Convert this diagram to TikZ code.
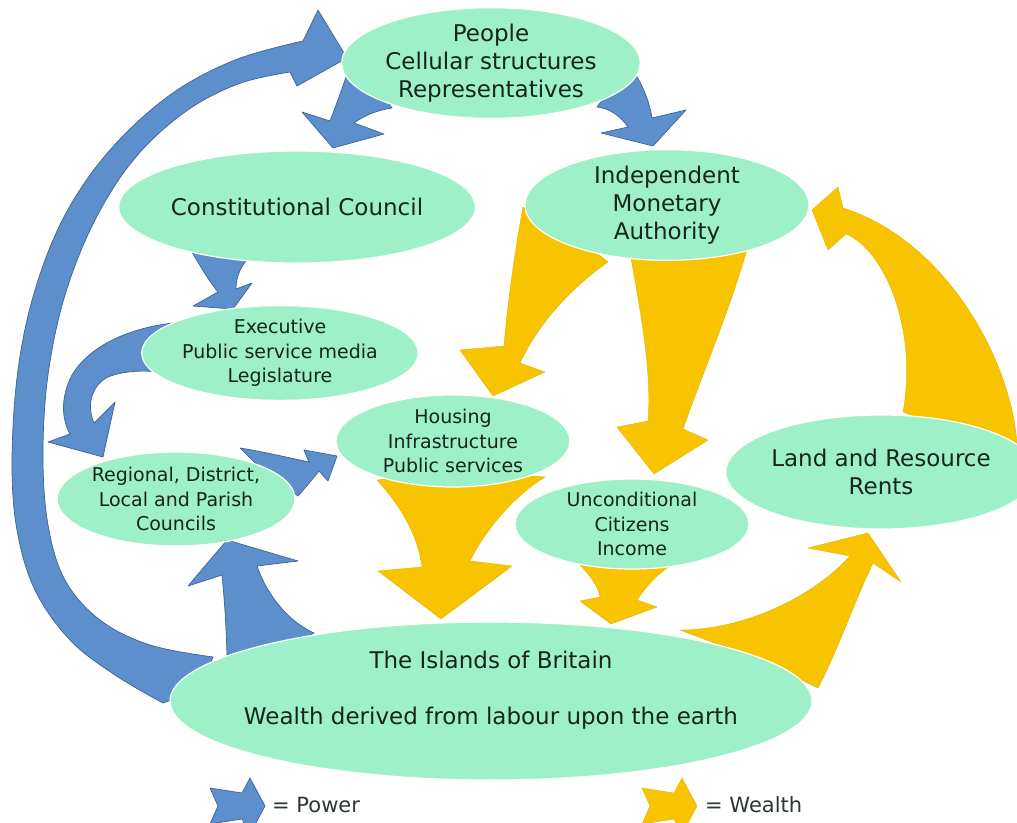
\documentclass[tikz,border=0pt]{standalone}
\usepackage{fontspec}
\setmainfont{DejaVu Sans}
\usetikzlibrary{shapes.geometric}
\definecolor{bubblefill}{RGB}{158,240,200}
\definecolor{powerblue}{RGB}{93,143,205}
\definecolor{powerline}{RGB}{62,98,148}
\definecolor{wealthyellow}{RGB}{248,196,0}
\definecolor{textdark}{RGB}{22,38,28}
\begin{document}
\begin{tikzpicture}[x=1pt,y=-1pt,
  bubble/.style={ellipse, fill=bubblefill, draw=white, line width=1.2pt, inner sep=0pt, align=center, text=textdark},
  bigtext/.style={font=\fontsize{23}{28}\selectfont},
  smalltext/.style={font=\fontsize{19}{24.3}\selectfont},
  legendtext/.style={font=\fontsize{21}{25}\selectfont, text=textdark!80!gray, inner sep=0pt},
  power/.style={fill=powerblue, draw=powerline, line width=0.7pt, line join=round},
  wealth/.style={fill=wealthyellow, draw=wealthyellow!92!black, line width=0.4pt, line join=round},
]
\useasboundingbox[fill=white] (0,0) rectangle (1017,822);

% ---------- power arrows (blue) ----------
% big arc: Islands -> People
\filldraw[power] plot[smooth, tension=0.6] coordinates {(163,703) (115,675) (70,640) (35,590) (17,530) (12,460) (18,370) (35,290) (65,215) (110,150) (170,95) (235,60) (303,41)}
  -- (318,10) -- (347,58) -- (297,86)
  -- plot[smooth, tension=0.6] coordinates {(290,72) (238,84) (185,112) (135,158) (95,220) (65,295) (48,375) (43,455) (48,525) (65,580) (100,620) (150,645) (213,657)}
  -- (200,690) -- cycle;
% People -> Constitutional Council
\filldraw[power] (347,74) .. controls (340,95) and (335,108) .. (330,121) -- (302,112) -- (333,148) -- (384,134) -- (354,123) .. controls (365,115) and (378,110) .. (392,108) -- (375,85) -- cycle;
% People -> Independent Monetary Authority
\filldraw[power] (636,75) .. controls (645,90) and (650,105) .. (652,118) -- (686,110) -- (653,146) -- (601,133) -- (628,127) .. controls (620,115) and (608,108) .. (597,107) -- (610,90) -- cycle;
% Constitutional Council -> Executive
\filldraw[power] (187,244) .. controls (198,262) and (208,280) .. (218,292) -- (193,306) -- (233,309) -- (252,283) -- (236,289) .. controls (236,278) and (240,268) .. (246,261) -- (215,250) -- cycle;
% Executive -> Regional
\filldraw[power] (173,323) .. controls (130,328) and (90,345) .. (72,375) .. controls (60,398) and (62,420) .. (70,434) -- (48,442) -- (103,457) -- (115,402) -- (94,423) .. controls (86,405) and (92,385) .. (108,377) .. controls (125,370) and (150,370) .. (166,373) -- (180,350) -- cycle;
% Regional -> Housing
\filldraw[power] (240,448) .. controls (265,452) and (290,458) .. (309,462) -- (304,450) -- (337,456) -- (328,481) -- (319,471) .. controls (312,480) and (305,488) .. (298,496) -- (262,470) -- cycle;
% Islands -> Regional
\filldraw[power] (227,540) -- (298,561) -- (257,566) .. controls (265,590) and (285,620) .. (314,633) -- (270,660) -- (227,655) .. controls (226,620) and (224,595) .. (222,575) -- (188,586) -- cycle;

% ---------- wealth arrows (yellow) ----------
% IMA -> Housing
\filldraw[wealth] (523,207) .. controls (515,250) and (508,300) .. (504,346) -- (460,350) -- (493,396) -- (545,372) -- (520,363) .. controls (540,320) and (575,285) .. (608,262) -- (580,240) -- cycle;
% IMA -> Unconditional
\filldraw[wealth] (630,252) .. controls (640,310) and (652,370) .. (648,421) -- (617,427) -- (654,474) -- (708,440) -- (683,429) .. controls (700,380) and (730,310) .. (748,246) -- (690,240) -- cycle;
% Housing -> Islands
\filldraw[wealth] (377,480) .. controls (400,505) and (418,535) .. (422,567) -- (378,571) -- (441,619) -- (512,566) -- (470,561) .. controls (485,530) and (515,495) .. (545,477) -- (460,470) -- cycle;
% Unconditional -> Islands
\filldraw[wealth] (578,563) .. controls (590,575) and (598,586) .. (600,597) -- (580,601) -- (611,624) -- (657,607) -- (637,600) .. controls (645,588) and (656,575) .. (670,566) -- (625,555) -- cycle;
% Islands -> Land
\filldraw[wealth] (680,630) .. controls (740,630) and (810,600) .. (850,556) -- (808,548) -- (868,533) -- (901,582) -- (873,563) .. controls (855,600) and (838,650) .. (818,688) -- (760,660) -- cycle;
% Land -> IMA
\filldraw[wealth] (1017,445) .. controls (1012,360) and (945,240) .. (843,208) -- (838,187) -- (812,210) -- (828,250) -- (846,234) .. controls (885,250) and (918,330) .. (903,412) -- (950,430) -- cycle;

% ---------- bubbles ----------
\node[bubble, bigtext, minimum width=290, minimum height=110] (people) at (491,63) {People\\Cellular structures\\Representatives};
\node[bubble, bigtext, minimum width=282, minimum height=112] (council) at (297,207) {Constitutional Council};
\node[bubble, bigtext, minimum width=284, minimum height=106] (ima) at (667,205) {Independent\\Monetary\\Authority};
\node[bubble, smalltext, minimum width=234, minimum height=92] (exec) at (280,353) {Executive\\Public service media\\Legislature};
\node[bubble, smalltext, minimum width=234, minimum height=92] (housing) at (453,441) {Housing\\Infrastructure\\Public services};
\node[bubble, smalltext, minimum width=236, minimum height=94] (regional) at (176,499) {Regional, District,\\Local and Parish\\Councils};
\node[bubble, smalltext, minimum width=234, minimum height=90] (income) at (632,524) {Unconditional\\Citizens\\Income};
\node[bubble, bigtext, minimum width=272, minimum height=114] (land) at (881,472) {Land and Resource\\Rents};
\node[bubble, minimum width=642, minimum height=158,
  label={[name=islandsText, bigtext, align=center, text=textdark, yshift=11pt]center:{The Islands of Britain\\[28pt]Wealth derived from labour upon the earth}}] (islands) at (491,701) {};

% ---------- legend ----------
\filldraw[power] (210,788) -- (242,793) -- (250,778) -- (265,806) -- (250,834) -- (242,819) -- (210,824) -- (218,806) -- cycle;
\node[legendtext, anchor=west] (powerlabel) at (272,805) {= Power};
\filldraw[wealth] (642,788) -- (674,793) -- (682,778) -- (697,806) -- (682,834) -- (674,819) -- (642,824) -- (650,806) -- cycle;
\node[legendtext, anchor=west] (wealthlabel) at (705,805) {= Wealth};
\end{tikzpicture}
\end{document}
